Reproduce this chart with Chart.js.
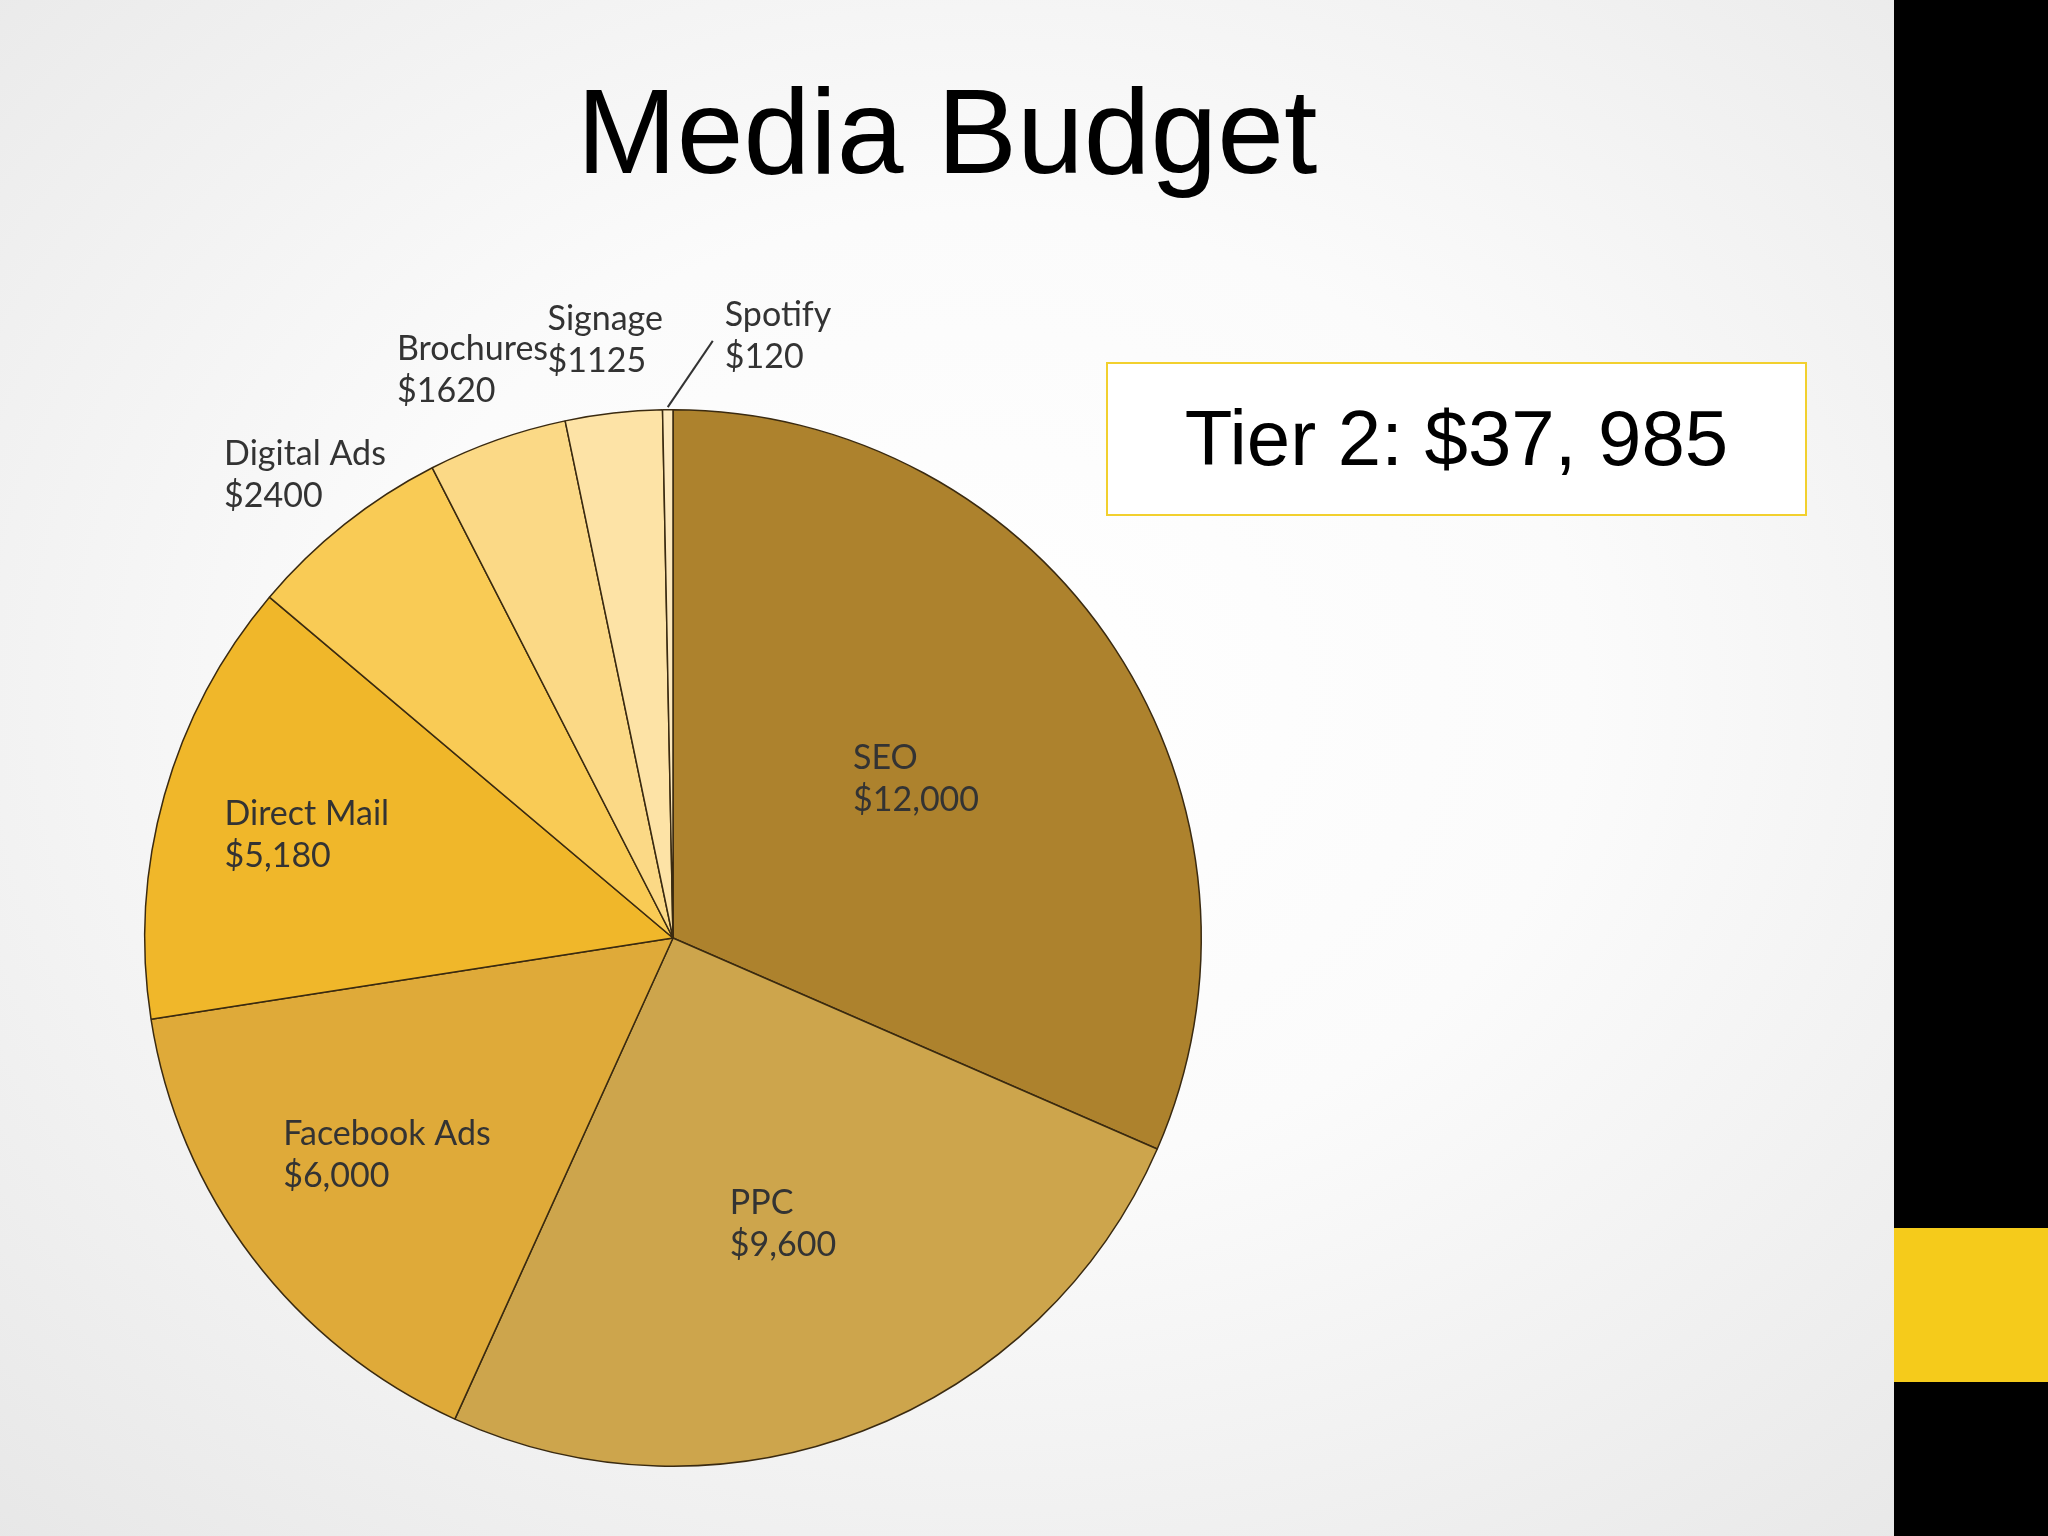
<!DOCTYPE html>
<html><head><meta charset="utf-8">
<script src="https://cdn.jsdelivr.net/npm/chart.js@4/dist/chart.umd.min.js"></script>
<style>
html,body{margin:0;padding:0;width:2048px;height:1536px;overflow:hidden;font-family:"Liberation Sans",Arial,sans-serif}
body{background:radial-gradient(ellipse at 48% 45%,#ffffff 0%,#fbfbfb 40%,#e6e6e6 100%)}
#title{position:absolute;left:0;width:1894px;top:62px;text-align:center;font-size:120px;color:#000}
#box{position:absolute;left:1106px;top:362px;width:701px;height:154px;border:2px solid #f2d02e;box-sizing:border-box;background:#fff;font-size:78px;text-align:center;line-height:148px;color:#000}
#strip{position:absolute;left:1894px;top:0;width:154px;height:1536px;background:#000}
#yel{position:absolute;left:1894px;top:1228px;width:154px;height:154px;background:#f5cb1b}
#wrap{position:absolute;left:14px;top:279px;width:1318px;height:1318px}
</style></head><body>
<div id="title">Media Budget</div>
<div id="box">Tier 2: $37, 985</div>
<div id="strip"></div><div id="yel"></div>
<div id="wrap"><canvas id="c"></canvas></div>
<script>
const categories=["SEO","PPC","Facebook Ads","Direct Mail","Digital Ads","Brochures","Signage","Spotify"];
const values=[12000,9600,6000,5180,2400,1620,1125,120];
const valueLabels=["$12,000","$9,600","$6,000","$5,180","$2400","$1620","$1125","$120"];
const colors=["#ad822d","#cda54c","#dfaa39","#f0b72a","#f9cb55","#fbd986","#fde3a6","#fde9bd"];
const labelRadius=[0.55,0.58,0.68,0.72,1.12,1.14,1.14,1.14];
const labelShiftX=[0,0,0,0,0,0,0,111];
const labelPlugin={id:'lbl',afterDatasetsDraw(chart){
  const ctx=chart.ctx;const meta=chart.getDatasetMeta(0);
  ctx.save();ctx.font='34px Lato, "Open Sans", sans-serif';ctx.fillStyle='#333';ctx.textBaseline='middle';
  meta.data.forEach((a,i)=>{
    const mid=(a.startAngle+a.endAngle)/2;const r=a.outerRadius*labelRadius[i];
    let x=a.x+Math.cos(mid)*r+labelShiftX[i];const y=a.y+Math.sin(mid)*r;
    const w=Math.max(ctx.measureText(categories[i]).width,ctx.measureText(valueLabels[i]).width);
    ctx.textAlign='left';
    ctx.fillText(categories[i],x-w/2,y-21);ctx.fillText(valueLabels[i],x-w/2,y+21);
    if(labelShiftX[i]){
      ctx.strokeStyle='#333';ctx.lineWidth=2;ctx.beginPath();
      ctx.moveTo(a.x+Math.cos(mid)*a.outerRadius*1.005,a.y+Math.sin(mid)*a.outerRadius*1.005);
      ctx.lineTo(x-w/2-12,y+5);ctx.stroke();
    }
  });ctx.restore();}};
new Chart(document.getElementById('c'),{type:'pie',
 data:{labels:categories,datasets:[{data:values,backgroundColor:colors,borderColor:'#3a2a10',borderWidth:1.5}]},
 options:{responsive:true,maintainAspectRatio:true,animation:false,layout:{padding:130},
  plugins:{legend:{display:false},tooltip:{enabled:false}}},
 plugins:[labelPlugin]});
</script></body></html>
